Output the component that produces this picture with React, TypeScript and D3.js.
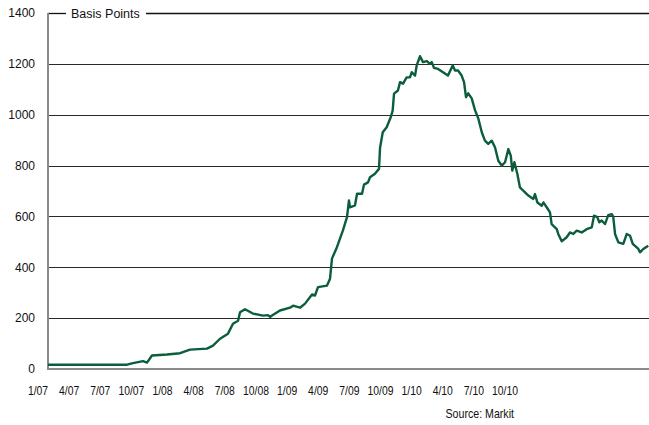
import React from "react";
import * as d3 from "d3";

// Time as fractional year, spread in basis points
const years: number[] = [
  2007.0, 2007.526, 2007.566, 2007.632, 2007.659, 2007.692, 2007.792, 2007.879, 2007.945,
  2008.058, 2008.098, 2008.145, 2008.198, 2008.231, 2008.265, 2008.278, 2008.311, 2008.364,
  2008.431, 2008.464, 2008.478, 2008.491, 2008.544, 2008.611, 2008.631, 2008.677, 2008.711,
  2008.757, 2008.777, 2008.797, 2008.857, 2008.877, 2008.89, 2008.923, 2008.963, 2008.99,
  2009.003, 2009.01, 2009.043, 2009.057, 2009.09, 2009.103, 2009.13, 2009.143, 2009.176,
  2009.203, 2009.21, 2009.228, 2009.254, 2009.281, 2009.294, 2009.303, 2009.329, 2009.343,
  2009.363, 2009.387, 2009.409, 2009.421, 2009.443, 2009.454, 2009.476, 2009.496, 2009.521,
  2009.542, 2009.554, 2009.569, 2009.596, 2009.629, 2009.662, 2009.694, 2009.709, 2009.729,
  2009.753, 2009.769, 2009.782, 2009.797, 2009.82, 2009.842, 2009.864, 2009.887, 2009.908,
  2009.93, 2009.953, 2009.975, 2009.997, 2010.02, 2010.042, 2010.064, 2010.08, 2010.09,
  2010.104, 2010.124, 2010.141, 2010.163, 2010.197, 2010.23, 2010.241, 2010.257, 2010.286,
  2010.297, 2010.319, 2010.341, 2010.352, 2010.386, 2010.396, 2010.419, 2010.452, 2010.474,
  2010.496, 2010.519, 2010.552, 2010.585, 2010.619, 2010.634, 2010.656, 2010.669, 2010.685,
  2010.707, 2010.729, 2010.752, 2010.762, 2010.774, 2010.796, 2010.829, 2010.852, 2010.874,
  2010.892, 2010.929, 2010.94, 2010.962, 2010.995,
];

const spreads: number[] = [
  17, 17, 23, 31, 25, 53, 57, 62, 76,
  80, 92, 119, 139, 178, 190, 223, 235, 218,
  210, 212, 205, 210, 230, 241, 249, 241, 257,
  293, 289, 322, 328, 355, 434, 479, 545, 597,
  663, 636, 643, 689, 689, 725, 734, 754, 768,
  787, 870, 931, 951, 990, 1016, 1083, 1095, 1128,
  1122, 1147, 1147, 1167, 1154, 1194, 1230, 1207, 1211,
  1200, 1207, 1184, 1180, 1167, 1154, 1194, 1174, 1174,
  1154, 1128, 1069, 1084, 1064, 1018, 985, 931, 898,
  885, 898, 872, 819, 800, 813, 865, 839, 780,
  813, 767, 714, 701, 682, 669, 688, 655, 642,
  655, 636, 616, 570, 550, 531, 502, 518, 537,
  531, 544, 537, 550, 557, 603, 597, 577, 584,
  570, 605, 609, 599, 531, 498, 492, 531, 524,
  492, 472, 459, 472, 485,
];

const yTicks: number[] = [0, 200, 400, 600, 800, 1000, 1200, 1400];
const xLabels: string[] = [
  "1/07", "4/07", "7/07", "10/07", "1/08", "4/08", "7/08", "10/08",
  "1/09", "4/09", "7/09", "10/09", "1/10", "4/10", "7/10", "10/10",
];

const W = 649;
const H = 425;
const left = 48;
const right = 649;
const top = 13;
const bottom = 369;

export default function App() {
  const x = d3.scaleLinear().domain([2007, 2011]).range([left, right]);
  const y = d3.scaleLinear().domain([0, 1400]).range([bottom, top]);
  const xl = d3.scalePoint<string>().domain(xLabels).range([38, 505]);
  const data = years.map((t, i) => ({ t, v: spreads[i] }));
  const line = d3
    .line<{ t: number; v: number }>()
    .x((d) => x(d.t))
    .y((d) => y(d.v));

  const font = "Arial, 'Liberation Sans', sans-serif";

  return (
    <svg
      width={W}
      height={H}
      style={{ position: "absolute", left: 0, top: 0, background: "#fff" }}
      fontFamily={font}
    >
      {/* gridlines */}
      {yTicks
        .filter((t) => t > 0 && t < 1400)
        .map((t) => (
          <line
            key={t}
            x1={left}
            x2={right}
            y1={Math.round(y(t)) + 0.5}
            y2={Math.round(y(t)) + 0.5}
            stroke="#2a2a2a"
            strokeWidth={1}
          />
        ))}
      {/* top line with title gap */}
      <line x1={left} x2={66} y1={Math.round(y(1400)) + 0.5} y2={Math.round(y(1400)) + 0.5} stroke="#111" strokeWidth={1.3} />
      <line x1={146} x2={right} y1={Math.round(y(1400)) + 0.5} y2={Math.round(y(1400)) + 0.5} stroke="#111" strokeWidth={1.3} />
      <text x={71} y={y(1400) + 4.5} fontSize={12.5} fill="#111">
        Basis Points
      </text>

      {/* axes */}
      <line x1={left} x2={left} y1={y(1400)} y2={bottom + 1} stroke="#8a8a8a" strokeWidth={2} />
      <line x1={left - 1} x2={right} y1={bottom} y2={bottom} stroke="#8a8a8a" strokeWidth={2} />

      {/* y tick labels */}
      {yTicks.map((t) => (
        <text
          key={t}
          x={35}
          y={y(t) + 4.3}
          textAnchor="end"
          fontSize={12}
          fill="#111"
        >
          {t}
        </text>
      ))}

      {/* x labels */}
      {xLabels.map((l) => (
        <text
          key={l}
          transform={`translate(${xl(l)},${395}) scale(0.83,1)`}
          textAnchor="middle"
          fontSize={12.5}
          fill="#111"
        >
          {l}
        </text>
      ))}

      {/* data line */}
      <path d={line(data) || ""} fill="none" stroke="#0b5e3c" strokeWidth={2.4} strokeLinejoin="round" />

      <text
        transform={`translate(514,418) scale(0.85,1)`}
        textAnchor="end"
        fontSize={12.5}
        fill="#111"
      >
        Source: Markit
      </text>
    </svg>
  );
}
